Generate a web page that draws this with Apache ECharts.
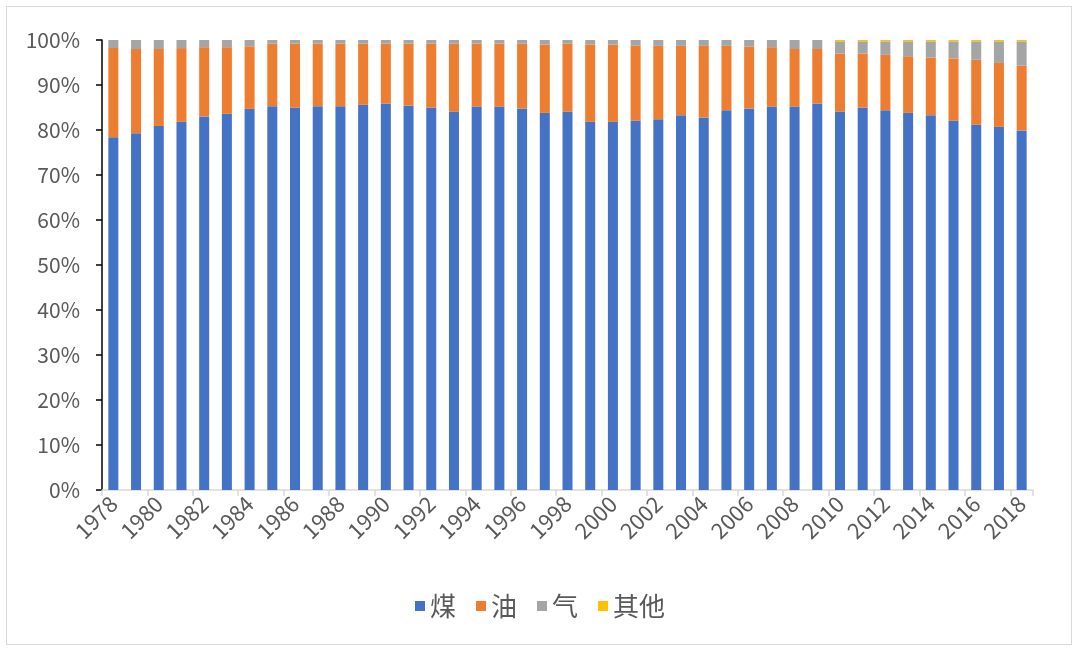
<!DOCTYPE html>
<html>
<head>
<meta charset="utf-8">
<script src="https://cdn.jsdelivr.net/npm/echarts@6/dist/echarts.min.js"></script>
<style>
html,body{margin:0;padding:0;background:#fff;}
#frame{position:absolute;left:6px;top:6px;width:1066px;height:639px;border:1px solid #d9d9d9;box-sizing:border-box;}
#chart{position:absolute;left:0;top:0;width:1080px;height:653px;}
</style>
</head>
<body>
<div id="frame"></div>
<div id="chart"></div>
<script>
const years = ['1978','1979','1980','1981','1982','1983','1984','1985','1986','1987','1988','1989','1990','1991','1992','1993','1994','1995','1996','1997','1998','1999','2000','2001','2002','2003','2004','2005','2006','2007','2008','2009','2010','2011','2012','2013','2014','2015','2016','2017','2018'];
const coal = [78.4,79.3,80.9,81.8,83.0,83.6,84.7,85.3,85.0,85.3,85.3,85.6,85.9,85.4,85.0,84.1,85.2,85.2,84.8,83.8,84.1,81.8,81.8,82.1,82.4,83.3,82.8,84.4,84.8,85.2,85.2,85.9,84.1,85.0,84.4,83.8,83.3,82.1,81.2,80.7,79.9];
const oil = [19.8,18.7,17.1,16.4,15.4,14.8,13.9,13.9,14.2,13.9,13.9,13.6,13.3,13.8,14.2,15.1,14.0,14.0,14.4,15.2,15.1,17.2,17.2,16.7,16.3,15.4,15.9,14.3,13.7,13.2,12.8,12.1,12.9,12.0,12.3,12.6,12.8,13.8,14.4,14.2,14.4];
const gas = [1.8,2.0,2.0,1.8,1.6,1.6,1.4,0.8,0.8,0.8,0.8,0.8,0.8,0.8,0.8,0.8,0.8,0.8,0.8,1.0,0.8,1.0,1.0,1.2,1.3,1.3,1.3,1.3,1.5,1.6,2.0,2.0,2.7,2.7,3.0,3.3,3.6,3.8,4.1,4.8,5.4];
const other = [0,0,0,0,0,0,0,0,0,0,0,0,0,0,0,0,0,0,0,0,0,0,0,0,0,0,0,0,0,0,0,0,0.3,0.3,0.3,0.3,0.3,0.3,0.3,0.3,0.3];
const seriesNames = ['煤','油','气','其他'];
const colors = ['#4472C4','#ED7D31','#A5A5A5','#FFC000'];

const chart = echarts.init(document.getElementById('chart'));
const dataSets = [coal, oil, gas, other];
const font = '"Noto Sans CJK SC", "Noto Sans", sans-serif';
chart.setOption({
  animation:false,
  color: colors,
  textStyle:{fontFamily:font},
  grid:{left:102,right:47,top:40,bottom:163},
  legend:{
    bottom:29, left:'center',
    itemWidth:10, itemHeight:10, itemGap:20,
    icon:'rect',
    textStyle:{fontSize:26,color:'#595959',fontFamily:font},
    data: seriesNames
  },
  xAxis:{
    type:'category', data: years,
    axisLine:{lineStyle:{color:'#d9d9d9',width:1.5}},
    axisTick:{show:true,length:6,lineStyle:{color:'#d9d9d9',width:1.5}},
    axisLabel:{interval:1,rotate:45,fontSize:22,color:'#595959',margin:10,fontFamily:font}
  },
  yAxis:{
    type:'value', min:0, max:100, interval:10,
    axisLine:{show:true,lineStyle:{color:'#000',width:1.5}},
    axisTick:{show:true,length:6,lineStyle:{color:'#000',width:1.5}},
    splitLine:{show:false},
    axisLabel:{formatter:'{value}%',fontSize:21,color:'#595959',margin:22,fontFamily:font}
  },
  series: seriesNames.map((n,i)=>({
    name:n, type:'bar', stack:'total', barWidth:10,
    data: dataSets[i]
  }))
});
</script>
</body>
</html>
